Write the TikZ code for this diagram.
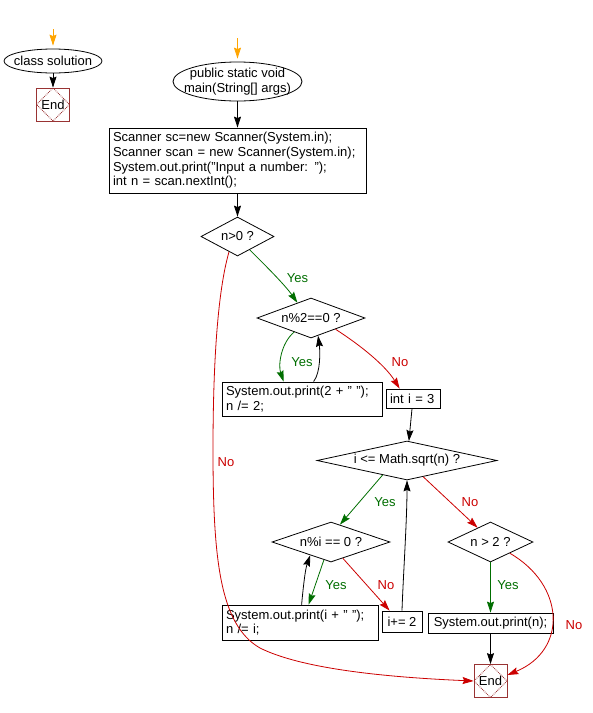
\documentclass[tikz,border=0pt]{standalone}
\usepackage{fontspec}
\setmainfont{Liberation Sans}
\usetikzlibrary{shapes.geometric,arrows.meta,calc}
\definecolor{ygreen}{RGB}{0,110,0}
\definecolor{nred}{RGB}{204,0,0}
\definecolor{endred}{RGB}{153,51,51}
\definecolor{startorange}{RGB}{255,165,0}
\begin{document}
\begin{tikzpicture}[x=1pt,y=-1pt,line width=0.8pt,
  font=\fontsize{13}{14.7}\selectfont,
  oval/.style={draw, ellipse, inner xsep=-25pt, inner ysep=0pt},
  cond/.style={draw, diamond, inner sep=0pt},
  codebox/.style={draw, rectangle, inner xsep=4pt, inner ysep=0pt, align=left},
  smallbox/.style={draw, rectangle, inner sep=0pt},
  endbox/.style={draw=endred, rectangle, minimum width=33pt, minimum height=33pt, inner sep=0pt,
    path picture={\draw[endred, densely dotted, line width=0.8pt]
      (path picture bounding box.north) -- (path picture bounding box.east) --
      (path picture bounding box.south) -- (path picture bounding box.west) -- cycle;}},
  flow/.style={-{Stealth[length=11pt,width=7pt,inset=1.5pt]}},
  yesflow/.style={flow, draw=ygreen},
  noflow/.style={flow, draw=nred},
  startflow/.style={flow, draw=startorange, shorten >=3pt},
  yeslbl/.style={text=ygreen, inner sep=0pt},
  nolbl/.style={text=nred, inner sep=0pt}]
\fill[white] (0,0) rectangle (593,713);
\useasboundingbox (0,0) rectangle (593,713);

% left part
\node[oval, minimum width=98pt, minimum height=24pt] (cs) at (53,61) {class solution};
\node[endbox] (end1) at (53,104.5) {End};
\coordinate (o1) at (53,29);
\draw[startflow] (o1) -- (cs);
\draw[flow] (cs) -- (end1);

% main
\node[oval, align=center, minimum width=129pt, minimum height=39pt] (main) at (237.5,81.5) {public static void\\main(String[] args)};
\coordinate (o2) at (237.5,38);
\draw[startflow] (o2) -- (main);

\node[codebox, text width=249pt, minimum height=65pt] (box1) at (237.5,160.5)
  {Scanner sc=new Scanner(System.in);\\Scanner scan = new Scanner(System.in);\\System.out.print("Input a number: ");\\int n = scan.nextInt();};

\node[cond, minimum width=73pt, minimum height=39pt, aspect=1.87] (d1) at (237.5,236.5) {n>0 ?};
\node[cond, minimum width=108pt, minimum height=40pt, aspect=2.7] (d2) at (311,318) {n\%2==0 ?};
\node[codebox, text width=152pt, minimum height=34pt] (box2) at (302,399)
  {System.out.print(2 + " ");\\n /= 2;};
\node[codebox, text width=46pt, minimum height=19pt] (int) at (413,398.5) {int i = 3};
\node[cond, minimum width=180pt, minimum height=39pt, aspect=4.6] (d3) at (407,460.5) {i <= Math.sqrt(n) ?};
\node[cond, minimum width=118pt, minimum height=40pt, aspect=2.95] (d4) at (331,542) {n\%i == 0 ?};
\node[cond, minimum width=85pt, minimum height=40pt, aspect=2.1] (d5) at (490.5,542) {n > 2 ?};
\node[codebox, text width=148pt, minimum height=35pt] (box4) at (300,622.5)
  {System.out.print(i + " ");\\n /= i;};
\node[smallbox, minimum width=40pt, minimum height=21pt] (i2) at (402,621.5) {i+= 2};
\node[smallbox, minimum width=125pt, minimum height=20pt] (box5) at (490.5,623) {System.out.print(n);};
\node[endbox] (end2) at (490.5,681) {End};

% connectors
\draw[flow] (main) -- (box1);
\draw[flow] (box1) -- (d1);
\draw[yesflow] ($(d1.south)!0.33!(d1.east)$) .. controls (265,265) and (285,285) .. ($(d2.north)!0.25!(d2.west)$);
\draw[yesflow] ($(d2.south)!0.31!(d2.west)$) .. controls (281,343) and (278,365) .. ($(box2.north west)+(62,0)$);
\draw[flow] ($(box2.north west)+(92,0)$) .. controls (321,372) and (320,350) .. ($(d2.south)!0.13!(d2.east)$);
\draw[noflow] ($(d2.south)!0.45!(d2.east)$) .. controls (360,345) and (385,365) .. ($(int.north west)+(14,0)$);
\draw[flow] (int) -- (d3);
\draw[yesflow] ($(d3.south)!0.27!(d3.west)$) -- ($(d4.north)!0.15!(d4.east)$);
\draw[noflow] ($(d3.south)!0.18!(d3.east)$) -- ($(d5.north)!0.3!(d5.west)$);
\draw[flow] (i2.north) .. controls (403,580) and (407,520) .. (d3.south);
\draw[yesflow] ($(d4.south)!0.12!(d4.west)$) -- ($(box4.north west)+(87,0)$);
\draw[flow] ($(box4.north west)+(80,0)$) .. controls (303,590) and (305,570) .. ($(d4.south)!0.35!(d4.west)$);
\draw[noflow] ($(d4.south)!0.2!(d4.east)$) -- ($(i2.north west)+(8,0)$);
\draw[yesflow] (d5) -- (box5);
\draw[flow] (box5) -- (end2);
\draw[noflow] ($(d5.south)!0.45!(d5.east)$) .. controls (565,585) and (568,650) .. ($(end2.east)+(0,-6)$);
\draw[noflow] ($(d1.south)!0.23!(d1.west)$) .. controls (218,290) and (213,360) .. (213,450)
  .. controls (213,560) and (220,625) .. (260,648)
  .. controls (300,668) and (380,677) .. (end2.west);

% labels
\node[yeslbl] (l1) at (297.5,278) {Yes};
\node[yeslbl] (l2) at (302,362) {Yes};
\node[nolbl] (l3) at (400,362) {No};
\node[yeslbl] (l4) at (385,502) {Yes};
\node[nolbl] (l5) at (470,502) {No};
\node[yeslbl] (l6) at (336,585) {Yes};
\node[nolbl] (l7) at (386,585) {No};
\node[yeslbl] (l8) at (508,585) {Yes};
\node[nolbl] (l9) at (574,625) {No};
\node[nolbl] (l10) at (226,462) {No};
\end{tikzpicture}
\end{document}
